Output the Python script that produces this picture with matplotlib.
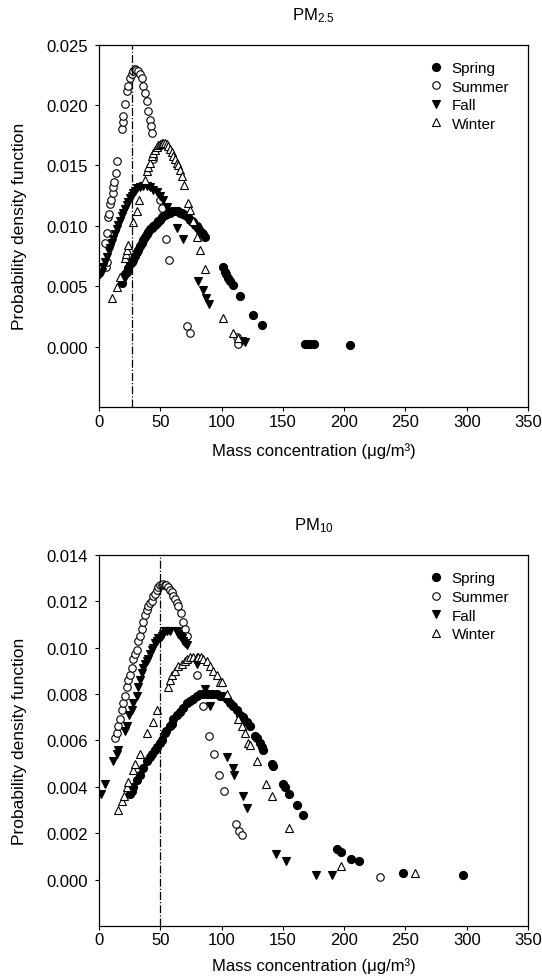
import matplotlib
matplotlib.use("Agg")
import matplotlib.pyplot as plt

# PM2.5 values
spring25_x = [18.5, 19.9, 21.2, 22.6, 24, 25.3, 26.7, 28, 29.4, 30.8, 32.1, 33.4, 34.8, 36.1,
              37.5, 38.9, 40.2, 41.6, 43, 44.3, 45.7, 47, 48.4, 49.8, 51.2, 52.5, 53.8, 55.2,
              56.5, 57.9, 59.3, 60.6, 62, 63.4, 64.7, 66.1, 67.5, 68.8, 70.2, 71.5, 72.9, 74.2,
              75.6, 77, 78.4, 79.7, 81.1, 82.4, 83.8, 85.1, 86.5, 101.4, 102.8, 104, 105.5,
              107, 109.1, 115, 125.9, 133.2, 168, 170, 172, 175, 205]
spring25_y = [0.0053, 0.0058, 0.0060, 0.0062, 0.0065, 0.0068, 0.0070, 0.0072, 0.0075, 0.0078,
              0.0080, 0.0083, 0.0086, 0.0088, 0.0091, 0.0093, 0.0095, 0.0097, 0.0098, 0.0100,
              0.0101, 0.0102, 0.0104, 0.0105, 0.0107, 0.0108, 0.0109, 0.0110, 0.0111, 0.0111,
              0.0112, 0.0112, 0.0112, 0.0112, 0.0112, 0.0111, 0.0111, 0.0110, 0.0109, 0.0108,
              0.0107, 0.0105, 0.0104, 0.0103, 0.0101, 0.0100, 0.0098, 0.0096, 0.0094, 0.0093,
              0.0091, 0.0066, 0.0062, 0.0060, 0.0057, 0.0054, 0.0051, 0.0042, 0.0026, 0.0018,
              0.0002, 0.0002, 0.0002, 0.0002, 0.0001]

summer25_x = [5.5, 6.5, 5, 6.3, 7.6, 8.4, 9.0, 9.8, 11.2, 11.7, 12.2, 13.9, 15, 18.5, 19.3,
              19.9, 21.2, 22.6, 23.9, 25.3, 26.7, 28, 29.4, 30.5, 32.1, 33.4, 34.8, 36.1, 37.5,
              38.9, 40.2, 41.6, 42.4, 43, 44.3, 49.8, 51.2, 54.7, 57.4, 71.5, 74.2, 112.3, 113.7]
summer25_y = [0.0066, 0.0070, 0.0086, 0.0094, 0.0107, 0.0110, 0.0118, 0.0121, 0.0127, 0.0132,
              0.0136, 0.0144, 0.0154, 0.0180, 0.0186, 0.0191, 0.0201, 0.0212, 0.0216, 0.0222,
              0.0226, 0.0228, 0.0230, 0.0229, 0.0228, 0.0226, 0.0222, 0.0216, 0.0210, 0.0203,
              0.0195, 0.0188, 0.0183, 0.0177, 0.0155, 0.0121, 0.0115, 0.0089, 0.0072, 0.0017,
              0.0011, 0.0008, 0.0002]

fall25_x = [0.8, 2.2, 3.5, 5, 6.3, 8, 9, 10.5, 11.7, 13, 14.4, 15.8, 17.1, 18.5, 19.9, 21.2,
            22.6, 24, 25.3, 26.7, 28, 29.5, 31, 33.4, 36, 38.9, 41.5, 44.3, 47, 49.8, 52.5,
            55.2, 63.9, 68.3, 81, 84.6, 87.3, 90, 117, 119]
fall25_y = [0.0060, 0.0062, 0.0066, 0.0070, 0.0074, 0.0079, 0.0082, 0.0086, 0.0089, 0.0093,
            0.0097, 0.0101, 0.0104, 0.0108, 0.0111, 0.0114, 0.0117, 0.0120, 0.0123, 0.0125,
            0.0127, 0.0129, 0.0131, 0.0132, 0.0133, 0.0133, 0.0132, 0.0130, 0.0128, 0.0125,
            0.0121, 0.0116, 0.0098, 0.0089, 0.0054, 0.0047, 0.0040, 0.0035, 0.0005, 0.0004]

winter25_x = [10.4, 14.4, 17.1, 21.2, 22, 22.6, 24, 28, 30.8, 32.9, 37.5, 38.9, 40.2, 41.6,
              43, 44.3, 45.7, 47, 48.4, 49.8, 51, 52.5, 53.8, 55.2, 56.5, 57.9, 59.3, 60.6,
              62, 63.4, 64.7, 66, 67.5, 69.6, 72.9, 74.2, 77, 79.7, 82.4, 86.5, 100.9, 109.6,
              113.7]
winter25_y = [0.0040, 0.0049, 0.0058, 0.0073, 0.0077, 0.0080, 0.0084, 0.0103, 0.0112, 0.0121,
              0.0138, 0.0145, 0.0149, 0.0152, 0.0158, 0.0160, 0.0163, 0.0165, 0.0167, 0.0168,
              0.0169, 0.0169, 0.0169, 0.0168, 0.0166, 0.0164, 0.0161, 0.0158, 0.0155, 0.0152,
              0.0150, 0.0146, 0.0141, 0.0134, 0.0119, 0.0113, 0.0104, 0.0091, 0.0080, 0.0064,
              0.0024, 0.0011, 0.0007]

# PM10 values
spring10_x = [25.3, 26.5, 28, 31, 33.4, 36.1, 38.9, 41.6, 43, 45.7, 47, 49.8, 51, 53.8, 55,
              57.9, 59.3, 60.6, 63.4, 66, 68.8, 71.5, 74.2, 77, 79.7, 82.4, 85.1, 87.9, 90.6,
              93.3, 96, 98.7, 101.4, 104.1, 106.8, 109.6, 112.3, 115, 117.7, 120.5, 123.2,
              127.3, 129, 131.4, 132.7, 134, 140.9, 142, 150.4, 151.5, 155.3, 161.3, 166.2,
              193.9, 197.2, 205.6, 212.4, 247.8, 297.3]
spring10_y = [0.0037, 0.0038, 0.0040, 0.0043, 0.0045, 0.0048, 0.0051, 0.0053, 0.0054, 0.0056,
              0.0057, 0.0059, 0.0060, 0.0063, 0.0064, 0.0066, 0.0067, 0.0069, 0.0071, 0.0072,
              0.0074, 0.0076, 0.0077, 0.0078, 0.0079, 0.0080, 0.0080, 0.0080, 0.0080, 0.0080,
              0.0080, 0.0079, 0.0079, 0.0078, 0.0076, 0.0075, 0.0073, 0.0071, 0.0070, 0.0068,
              0.0066, 0.0062, 0.0061, 0.0059, 0.0057, 0.0056, 0.0050, 0.0049, 0.0041, 0.0040,
              0.0037, 0.0032, 0.0028, 0.0013, 0.0012, 0.0009, 0.0008, 0.0003, 0.0002]

summer10_x = [13.1, 14.5, 15.8, 17, 18.5, 19.9, 21.2, 22.6, 24, 25.3, 26.7, 28, 29.5, 30.8,
              32.1, 33.4, 34.8, 36.1, 37.5, 38.9, 40.2, 41.6, 42.9, 44.3, 45.7, 47, 48.4, 49.8,
              51, 52, 53.5, 55, 56.5, 57.9, 59.3, 60.6, 62, 63.4, 64.7, 66.6, 68.8, 70, 71.5,
              79.7, 85.1, 90, 93.8, 98.2, 102.3, 111.8, 114.5, 116.4, 229.3]
summer10_y = [0.0061, 0.0063, 0.0066, 0.0069, 0.0073, 0.0076, 0.0079, 0.0083, 0.0086, 0.0088,
              0.0091, 0.0095, 0.0097, 0.0099, 0.0103, 0.0105, 0.0108, 0.0111, 0.0114, 0.0116,
              0.0118, 0.0119, 0.0120, 0.0122, 0.0123, 0.0125, 0.0126, 0.0127, 0.0127, 0.01275,
              0.0127, 0.0127, 0.0126, 0.0125, 0.0124, 0.0122, 0.0121, 0.0119, 0.0118, 0.0115,
              0.0111, 0.0108, 0.0105, 0.0088, 0.0075, 0.0062, 0.0054, 0.0045, 0.0038, 0.0024,
              0.0021, 0.0019, 0.0001]

fall10_x = [2, 4.9, 11.7, 14.4, 15.8, 21.2, 22.6, 24.7, 26.7, 28, 30.8, 32.1, 33.4, 34.8,
            36.1, 37.5, 38.9, 40.2, 41.6, 43, 44.3, 45.7, 47, 48.4, 49.8, 51.2, 52.5, 53.8,
            55.2, 57.9, 63.4, 64.7, 66.1, 67.5, 68.8, 70, 71.5, 79.7, 86.5, 90.6, 104.1, 109.1,
            110.1, 117.2, 120.5, 144.4, 152.6, 177, 190.3]
fall10_y = [0.0037, 0.0041, 0.0051, 0.0054, 0.0056, 0.0064, 0.0066, 0.0071, 0.0073, 0.0076,
            0.0079, 0.0083, 0.0086, 0.0089, 0.0091, 0.0093, 0.0094, 0.0095, 0.0097, 0.0099,
            0.0100, 0.0102, 0.0103, 0.0104, 0.0104, 0.0105, 0.0106, 0.0107, 0.0107, 0.0107,
            0.0107, 0.0106, 0.0105, 0.0104, 0.0103, 0.0102, 0.0101, 0.0093, 0.0082, 0.0075,
            0.0053, 0.0048, 0.0045, 0.0036, 0.0031, 0.0011, 0.0008, 0.0002, 0.0002]

winter10_x = [15.8, 18.5, 20, 22.6, 24, 28, 29.4, 33.4, 38.9, 44.3, 47, 56.5, 57.9, 59.3, 62,
              64.7, 67.5, 70.2, 72, 74.2, 77, 79.7, 81, 83, 85.1, 87.9, 90.6, 93.3, 96, 98.7,
              100.1, 104.1, 113.7, 116.4, 119.1, 121.8, 123.2, 128.6, 136.2, 140.9, 155.3,
              197.2, 257.8]
winter10_y = [0.0030, 0.0034, 0.0036, 0.0040, 0.0042, 0.0047, 0.0050, 0.0054, 0.0063, 0.0068,
              0.0073, 0.0083, 0.0086, 0.0088, 0.0090, 0.0092, 0.0093, 0.0094, 0.0095, 0.0096,
              0.0096, 0.0096, 0.0096, 0.0096, 0.0095, 0.0094, 0.0092, 0.0090, 0.0088, 0.0085,
              0.0085, 0.0080, 0.0069, 0.0066, 0.0063, 0.0059, 0.0058, 0.0051, 0.0041, 0.0036,
              0.0022, 0.0006, 0.0003]

season_names = ["Spring", "Summer", "Fall", "Winter"]
x_ticks = [0, 50, 100, 150, 200, 250, 300, 350]


def draw_panel(ax, series, title, mode_x, ylim, yticks, ylabels, xlab_y):
    """draws one season scatter panel"""
    styles = [("o", "black", 5.8), ("o", "white", 5.4), ("v", "black", 5.8), ("^", "white", 5.4)]
    for (xs, ys), name, (mk, face, ms) in zip(series, season_names, styles):
        ax.plot(xs, ys, linestyle="none", marker=mk, markersize=ms,
                markerfacecolor=face, markeredgecolor="black", markeredgewidth=0.8,
                label=name)

    # mode line
    ax.axvline(mode_x, color="black", linestyle="-.", linewidth=0.9)

    ax.set_xlim(0, 350)
    ax.set_ylim(*ylim)
    ax.set_xticks(x_ticks)
    ax.set_yticks(yticks)
    ax.set_yticklabels(ylabels)
    ax.tick_params(direction="out", length=3.2, width=0.8, labelsize=12)
    ax.tick_params(axis="x", pad=1.5)
    ax.tick_params(axis="y", pad=4.5)
    for side in ["left", "bottom", "top", "right"]:
        ax.spines[side].set_linewidth(0.9)
    ax.set_title(title, fontsize=12, pad=18)
    ax.set_xlabel("Mass concentration (μg/m³)", fontsize=12)
    ax.set_ylabel("Probability density function", fontsize=12.5)
    ax.xaxis.set_label_coords(0.5, xlab_y)
    ax.yaxis.set_label_coords(-0.168, 0.5)
    ax.legend(loc="upper left", bbox_to_anchor=(0.772, 0.955), frameon=False,
              fontsize=11, handlelength=0.8, handletextpad=0.6, labelspacing=0.3,
              borderpad=0, borderaxespad=0)


def main():
    plt.rcParams["font.family"] = ["Liberation Sans", "DejaVu Sans"]
    plt.rcParams["mathtext.fontset"] = "custom"
    plt.rcParams["mathtext.rm"] = "Liberation Sans"
    plt.rcParams["mathtext.it"] = "Liberation Sans"

    fig = plt.figure(figsize=(5.42, 9.78), dpi=100)
    ax1 = fig.add_axes([0.1827, 0.5828, 0.7915, 0.3705])
    ax2 = fig.add_axes([0.1827, 0.0522, 0.7915, 0.3796])

    top_ticks = [0.0, 0.005, 0.010, 0.015, 0.020, 0.025]
    draw_panel(ax1,
               [(spring25_x, spring25_y), (summer25_x, summer25_y),
                (fall25_x, fall25_y), (winter25_x, winter25_y)],
               r"PM$_{\mathrm{2.5}}$", 27, (-0.005, 0.025),
               top_ticks, [f"{t:.3f}" for t in top_ticks], -0.097)

    bottom_ticks = [0.0, 0.002, 0.004, 0.006, 0.008, 0.010, 0.012, 0.014]
    draw_panel(ax2,
               [(spring10_x, spring10_y), (summer10_x, summer10_y),
                (fall10_x, fall10_y), (winter10_x, winter10_y)],
               r"PM$_{\mathrm{10}}$", 50, (-0.002, 0.014),
               bottom_ticks, [f"{t:.3f}" for t in bottom_ticks], -0.085)

    fig.savefig("out.png", dpi=100)


if __name__ == "__main__":
    main()
